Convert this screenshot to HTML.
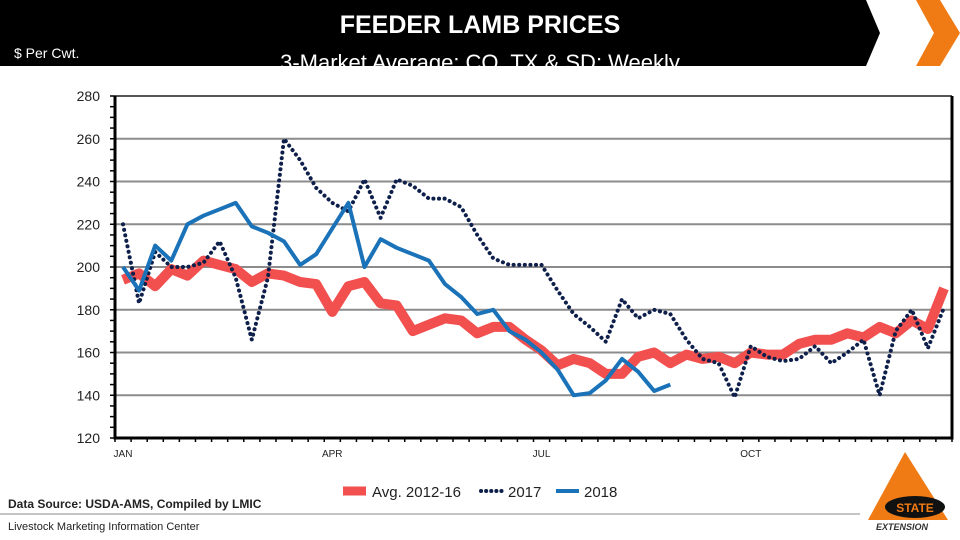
<!DOCTYPE html>
<html><head><meta charset="utf-8"><style>
body{margin:0;width:960px;height:540px;background:#fff;overflow:hidden;font-family:"Liberation Sans",sans-serif;position:relative}
</style></head><body>
<svg width="960" height="540" style="position:absolute;left:0;top:0">
<g>
<polygon points="0,0 866,0 880,33 866,66 0,66" fill="#000"/>
<polygon points="916,0 940,0 960,33 940,66 916,66 934,33" fill="#f07a13"/>
<text x="480" y="33" text-anchor="middle" font-size="25" font-weight="bold" fill="#fff">FEEDER LAMB PRICES</text>
<clipPath id="hc"><rect x="0" y="0" width="960" height="66"/></clipPath>
<text x="480" y="70" text-anchor="middle" font-size="22" fill="#fff" clip-path="url(#hc)">3-Market Average: CO, TX &amp; SD: Weekly</text>
<text x="14" y="58" font-size="14" fill="#fff">$ Per Cwt.</text>
</g>
<g id="grid"></g><g id="axes"></g><g id="series"></g>
<g>
<g><line x1="343" y1="491" x2="366" y2="491" stroke="#f24f4f" stroke-width="9"/><text x="372" y="497" font-size="15" fill="#222">Avg. 2012-16</text></g>
<g><line x1="481" y1="491" x2="502" y2="491" stroke="#0d1f4a" stroke-width="4" stroke-dasharray="0.1 5" stroke-linecap="round"/><text x="508" y="497" font-size="15" fill="#222">2017</text></g>
<g><line x1="556" y1="491" x2="579" y2="491" stroke="#1a72b8" stroke-width="4"/><text x="584" y="497" font-size="15" fill="#222">2018</text></g>
</g>
<text x="8" y="508" font-size="12" font-weight="bold" fill="#222">Data Source:  USDA-AMS, Compiled by LMIC</text>
<line x1="0" y1="514" x2="860" y2="514" stroke="#888" stroke-width="1"/>
<text x="8" y="530" font-size="11" fill="#222">Livestock Marketing Information Center</text>
<g>
<polygon points="868,520 905,452 948,520" fill="#f07a13"/>
<ellipse cx="915" cy="507" rx="30" ry="11" fill="#111"/>
<text x="915" y="512" text-anchor="middle" font-size="12" font-weight="bold" fill="#f07a13">STATE</text>
<text x="902" y="530" text-anchor="middle" font-size="9" font-style="italic" font-weight="bold" fill="#333">EXTENSION</text>
</g>
</svg>
<script>
const avg=[194,197,191,199,196,203,201,199,193,197,196,193,192,179,191,193,183,182,170,173,176,175,169,172,172,166,161,154,157,155,150,150,158,160,155,159,157,158,155,160,159,159,164,166,166,169,167,172,169,175,171,190];
const y2017=[220,183,207,200,200,202,212,195,166,195,260,250,237,230,226,241,223,241,238,232,232,228,215,204,201,201,201,189,178,172,165,185,176,180,178,166,157,155,139,163,158,156,157,163,155,160,166,140,170,180,162,181];
const y2018=[200,189,210,203,220,224,227,230,219,216,212,201,206,218,230,200,213,209,206,203,192,186,178,180,170,166,160,152,140,141,147,157,151,142,145];
const yTicks=[120,140,160,180,200,220,240,260,280];
const monthLabels=["JAN","APR","JUL","OCT"];
const monthWeeks=[0,13,26,39];
const NW=52;
const X0=115,X1=952,Y0=438,Y1=96;
const ns="http://www.w3.org/2000/svg";
function xs(i){return X0+(X1-X0)/NW*(i+0.5);}
function ys(v){return Y0-(v-120)/(280-120)*(Y0-Y1);}
function mk(t,a,p){const e=document.createElementNS(ns,t);for(const k in a)e.setAttribute(k,a[k]);p.appendChild(e);return e;}
const grid=document.getElementById('grid'),axes=document.getElementById('axes'),ser=document.getElementById('series');
yTicks.forEach(v=>{
 if(v>120){const l=mk('line',{x1:X0,x2:X1,y1:ys(v),y2:ys(v),stroke:v==280?'#555':'#8c8c8c','stroke-width':2},grid);
 
 }
 const t=mk('text',{x:100,y:ys(v)+5,'text-anchor':'end','font-size':14,fill:'#222'},axes);t.textContent=v;
 
 
});
for(let i=0;i<=NW;i++){const x=X0+(X1-X0)/NW*i;mk('line',{x1:x,x2:x,y1:Y0,y2:Y0+4,stroke:'#000','stroke-width':1.5},axes);}
for(let v=120;v<=280;v+=5){mk('line',{x1:X0-5,x2:X0,y1:ys(v),y2:ys(v),stroke:'#000','stroke-width':1.5},axes);}
const ax=mk('path',{d:`M${X0},${Y1} V${Y0} H${X1} V${Y1}`,fill:'none',stroke:'#000','stroke-width':3},axes);


monthLabels.forEach((m,k)=>{const t=mk('text',{x:X0+(X1-X0)/NW*monthWeeks[k]+8,y:457,'text-anchor':'middle','font-size':10,fill:'#222'},axes);t.textContent=m;
 
 });
function line(arr,attrs,name){const d=arr.map((v,i)=>(i?'L':'M')+xs(i).toFixed(1)+','+ys(v).toFixed(1)).join(' ');
 const p=mk('path',Object.assign({d:d,fill:'none','stroke-linejoin':'round'},attrs),ser);
 
 }
line(avg,{stroke:'#f24f4f','stroke-width':10},'series-avg-2012-16');
line(y2017,{stroke:'#0d1f4a','stroke-width':4,'stroke-dasharray':'0.1 5.5','stroke-linecap':'round'},'series-2017');
line(y2018,{stroke:'#1a72b8','stroke-width':4},'series-2018');
</script>
</body></html>
